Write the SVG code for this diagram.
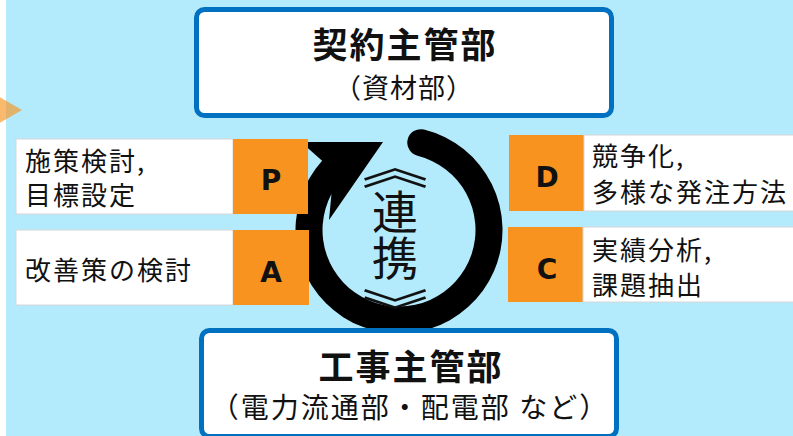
<svg xmlns="http://www.w3.org/2000/svg" width="793" height="436" viewBox="0 0 793 436">
<style>
.jp{font-family:"Noto Sans CJK JP","Noto Sans CJK SC",sans-serif;fill:#111}
.lbl{font-size:26px;letter-spacing:2px}
.ttl{font-size:35px;font-weight:700;letter-spacing:2px}
.sub{font-size:27px;letter-spacing:1px}
.let{font-family:"DejaVu Sans",sans-serif;font-weight:700;font-size:28px;fill:#111;text-anchor:middle}
.frame{fill:#fff;stroke:#0070C0;stroke-width:5}
.wbox{fill:#fff;stroke:#D6D6D6;stroke-width:1}
.obox{fill:#F8931F}
</style>
<rect x="0" y="0" width="793" height="436" fill="#B4EBFC"/>
<rect x="0" y="0" width="6" height="436" fill="#fff"/>
<polygon points="-30,80 22,110 -30,140" fill="#F8931F" fill-opacity="0.65"/>

<g id="connectors">
<path d="M424.04,129.57 A103.5,103.5 0 1 1 322.09,160.75 L301,142 L383,142 L329,220 L331.46,194.08 A76.5,76.5 0 1 0 417.51,155.77 A13.5,13.5 0 0 1 424.04,129.57 Z" fill="#000"/>
</g>

<g id="renkei">
<text class="jp" transform="translate(395,183) scale(1.45,1)" x="0" y="0" font-size="46" text-anchor="middle">︽</text>
<text class="jp" x="395" y="229" font-size="46" text-anchor="middle">連</text>
<text class="jp" x="395" y="275" font-size="46" text-anchor="middle">携</text>
<text class="jp" transform="translate(395,328) scale(1.45,1)" x="0" y="0" font-size="46" text-anchor="middle">︾</text>
</g>

<g id="node-keiyaku">
<rect class="frame" x="196.5" y="9.5" width="415" height="106" rx="8"/>
<text class="jp ttl" x="405" y="58" text-anchor="middle">契約主管部</text>
<text class="jp sub" x="404" y="98" text-anchor="middle">（資材部）</text>
</g>

<g id="node-kouji">
<rect class="frame" x="201.5" y="330.5" width="415" height="106" rx="8"/>
<text class="jp ttl" x="411" y="380" text-anchor="middle">工事主管部</text>
<text class="jp" x="410" y="418" text-anchor="middle" font-size="28" letter-spacing="2">（電力流通部・配電部 など）</text>
</g>

<g id="node-P">
<rect class="wbox" x="16" y="139" width="217" height="75"/>
<rect class="obox" x="233" y="139" width="75" height="75"/>
<text class="let" x="271" y="190">P</text>
<text class="jp lbl" x="25" y="171">施策検討,</text>
<text class="jp lbl" x="25" y="205">目標設定</text>
</g>

<g id="node-A">
<rect class="wbox" x="16" y="230" width="217" height="75"/>
<rect class="obox" x="233" y="230" width="76" height="75"/>
<text class="let" x="271" y="282">A</text>
<text class="jp lbl" x="25" y="280">改善策の検討</text>
</g>

<g id="node-D">
<rect class="obox" x="509" y="135" width="75" height="76"/>
<rect class="wbox" x="584" y="135" width="215" height="76"/>
<text class="let" x="547" y="187">D</text>
<text class="jp lbl" x="592" y="166">競争化,</text>
<text class="jp lbl" x="592" y="202">多様な発注方法</text>
</g>

<g id="node-C">
<rect class="obox" x="508" y="227" width="75" height="75"/>
<rect class="wbox" x="583" y="227" width="215" height="75"/>
<text class="let" x="547" y="279">C</text>
<text class="jp lbl" x="592" y="260">実績分析,</text>
<text class="jp lbl" x="592" y="295">課題抽出</text>
</g>
</svg>
